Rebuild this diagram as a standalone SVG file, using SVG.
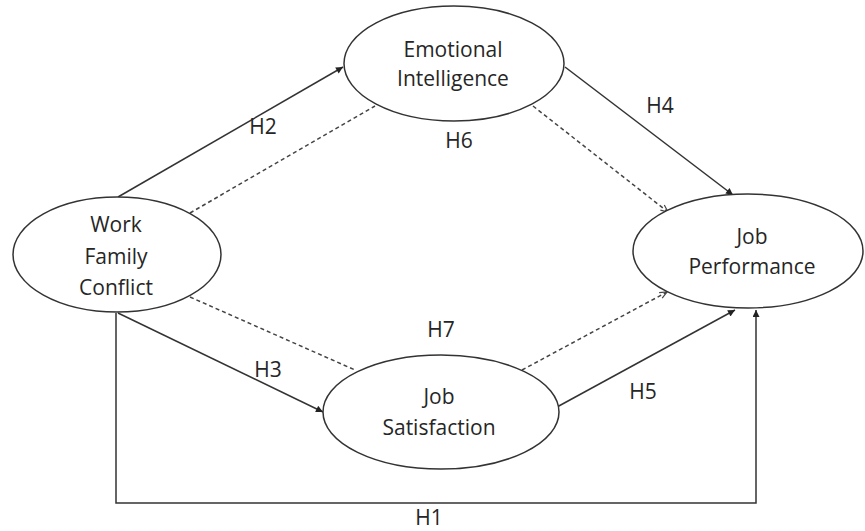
<svg xmlns="http://www.w3.org/2000/svg" width="865" height="531" viewBox="0 0 865 531">
<style>
  .node ellipse { fill: #ffffff; stroke: #333333; stroke-width: 1.5; }
  .node text, .label { font-family: "Open Sans", "Liberation Sans", sans-serif; font-size: 21px; fill: #262626; text-anchor: middle; }
  .solid { fill: none; stroke: #333333; stroke-width: 1.5; marker-end: url(#arrow); }
  .dash { fill: none; stroke: #444444; stroke-width: 1.5; stroke-dasharray: 4 3; }
  .dasharrow { marker-end: url(#openarrow); }
</style>
<defs>
  <marker id="arrow" viewBox="0 0 10 10" refX="10" refY="5" markerWidth="9" markerHeight="7" markerUnits="userSpaceOnUse" orient="auto">
    <path d="M0,0 L10,5 L0,10 z" fill="#222222"/>
  </marker>
  <marker id="openarrow" viewBox="0 0 10 10" refX="10" refY="5" markerWidth="9" markerHeight="8" markerUnits="userSpaceOnUse" orient="auto">
    <path d="M1,1 L10,5 L1,9" fill="none" stroke="#444444" stroke-width="1.5"/>
  </marker>
</defs>
<rect width="865" height="531" fill="#ffffff"/>
<g id="connectors">
  <path class="solid" d="M118,197 L343,67"/>
  <path class="dash" d="M190,213 L375,106"/>
  <path class="solid" d="M565,67 L733,195"/>
  <path class="dash dasharrow" d="M533,106 L668,212"/>
  <path class="solid" d="M118,313 L323,412"/>
  <path class="dash" d="M190,297 L355,370"/>
  <path class="solid" d="M557,407 L735,310"/>
  <path class="dash dasharrow" d="M522,370 L667,292"/>
  <path class="solid" d="M116,313 V503 H756 V310"/>
</g>
<g id="labels">
  <text class="label" x="263" y="134">H2</text>
  <text class="label" x="459" y="148">H6</text>
  <text class="label" x="660" y="113">H4</text>
  <text class="label" x="441" y="337">H7</text>
  <text class="label" x="268" y="377">H3</text>
  <text class="label" x="643" y="399">H5</text>
  <text class="label" x="429" y="525">H1</text>
</g>
<g id="work-family-conflict" class="node">
  <ellipse cx="117" cy="254.5" rx="104" ry="57.5"/>
  <text x="116" y="232">Work</text>
  <text x="116" y="264">Family</text>
  <text x="116" y="295">Conflict</text>
</g>
<g id="emotional-intelligence" class="node">
  <ellipse cx="454" cy="63.5" rx="110" ry="57.5"/>
  <text x="453" y="57">Emotional</text>
  <text x="453" y="86">Intelligence</text>
</g>
<g id="job-performance" class="node">
  <ellipse cx="748" cy="251" rx="115" ry="57"/>
  <text x="752" y="244">Job</text>
  <text x="752" y="274">Performance</text>
</g>
<g id="job-satisfaction" class="node">
  <ellipse cx="441" cy="412" rx="118" ry="57"/>
  <text x="439" y="404">Job</text>
  <text x="439" y="435">Satisfaction</text>
</g>
</svg>
